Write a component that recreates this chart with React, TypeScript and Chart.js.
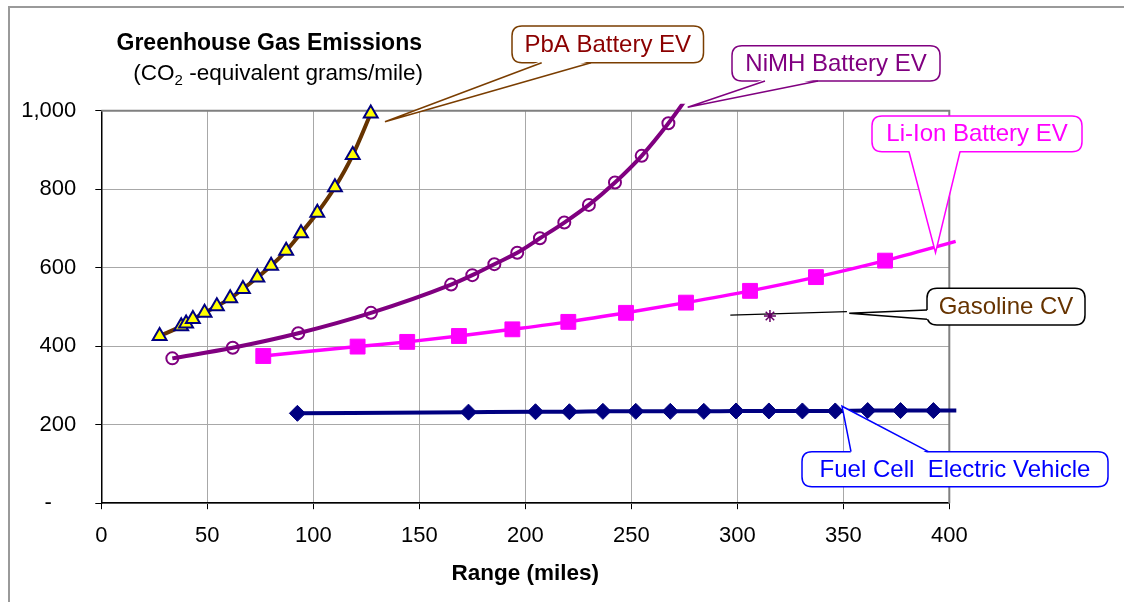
import React, { useEffect, useRef } from 'react';
import { Chart, registerables } from 'chart.js';

Chart.register(...registerables);

const FONT = '"Liberation Sans", Arial, Helvetica, sans-serif';

// ---- Data ----
const pbaRange = [27.5, 37.7, 40.0, 43.2, 48.7, 54.5, 60.8, 66.8, 73.6, 80.1, 87.2, 94.2, 101.9, 110.2, 118.6, 127.1];
const pbaGhg = [426, 451, 458, 469, 485, 502, 522, 546, 575, 605, 643, 688, 740, 805, 887, 993];

const nimhRange = [33.5, 62.0, 92.9, 127.2, 165.0, 175.0, 185.4, 196.2, 206.9, 218.4, 230.0, 242.3, 254.9, 267.5, 280.5];
const nimhGhg = [369, 396, 433, 485, 557, 581, 609, 638, 675, 715, 760, 817, 885, 968, 1065];

const liRange = [76.4, 120.9, 144.3, 168.7, 193.9, 220.3, 247.5, 275.8, 306.0, 337.1, 369.7, 403.0];
const liGhg = [375, 399, 411, 426, 443, 462, 485, 511, 541, 576, 618, 667];

const fcRange = [92.5, 173.2, 204.8, 220.8, 236.6, 252.1, 268.4, 284.2, 299.4, 314.9, 330.7, 346.2, 361.5, 377.0, 392.5, 408.0];
const fcGhg = [229, 232, 233, 233, 234, 234, 234, 234, 235, 235, 235, 235, 236, 236, 236, 236];

const gasRange = [315.4];
const gasGhg = [477];
const gasLeaderRange = [296.7, 351.7];
const gasLeaderGhg = [479, 488];

const xTicks = [0, 50, 100, 150, 200, 250, 300, 350, 400];
const yTicks = [0, 200, 400, 600, 800, 1000];
const yTickLabels = ['-    ', '200', '400', '600', '800', '1,000'];

const calloutTexts = ['PbA Battery EV', 'NiMH Battery EV', 'Li-Ion Battery EV', 'Gasoline CV', 'Fuel Cell  Electric Vehicle'];
const calloutTipRange = [133.8, 276.6, 393.5, 352.8, 349.4];
const calloutTipGhg = [972, 1009, 638, 484, 247];

// ---- Layout / style (pixels) ----
type Side = 'top' | 'bottom' | 'left';
const calloutLayout: { x: number; y: number; w: number; h: number; side: Side; b1: number; b2: number }[] = [
  { x: 512, y: 26, w: 191.5, h: 36.7, side: 'bottom', b1: 541.7, b2: 591 },
  { x: 732, y: 45.7, w: 208, h: 35.3, side: 'bottom', b1: 765, b2: 818 },
  { x: 872, y: 116, w: 210, h: 35.7, side: 'bottom', b1: 909, b2: 960 },
  { x: 927, y: 288.3, w: 158, h: 36.7, side: 'left', b1: 310, b2: 319.3 },
  { x: 802, y: 451.7, w: 306, h: 35, side: 'top', b1: 851, b2: 928.4 },
];
const calloutStyle = [
  { border: '#7a3d00', text: '#8b0000' },
  { border: '#800080', text: '#800080' },
  { border: '#ff00ff', text: '#ff00ff' },
  { border: '#000000', text: '#663300' },
  { border: '#0000ff', text: '#0000ff' },
];

const toXY = (xs: number[], ys: number[]) => xs.map((x, i) => ({ x, y: ys[i] }));
const radii = (n: number, r: number, hiddenLast: boolean) =>
  Array.from({ length: n }, (_, i) => (hiddenLast && i === n - 1 ? 0 : r));

function roundRectPath(ctx: CanvasRenderingContext2D, x: number, y: number, w: number, h: number, r: number) {
  ctx.beginPath();
  ctx.moveTo(x + r, y);
  ctx.lineTo(x + w - r, y);
  ctx.quadraticCurveTo(x + w, y, x + w, y + r);
  ctx.lineTo(x + w, y + h - r);
  ctx.quadraticCurveTo(x + w, y + h, x + w - r, y + h);
  ctx.lineTo(x + r, y + h);
  ctx.quadraticCurveTo(x, y + h, x, y + h - r);
  ctx.lineTo(x, y + r);
  ctx.quadraticCurveTo(x, y, x + r, y);
  ctx.closePath();
}

const decorPlugin = {
  id: 'decor',
  beforeDraw(chart: any) {
    const ctx: CanvasRenderingContext2D = chart.ctx;
    ctx.save();
    ctx.fillStyle = '#ffffff';
    ctx.fillRect(0, 0, chart.width, chart.height);
    // outer frame
    ctx.strokeStyle = '#9a9a9a';
    ctx.lineWidth = 2;
    ctx.beginPath();
    ctx.moveTo(9, chart.height + 2);
    ctx.lineTo(9, 7);
    ctx.lineTo(chart.width + 2, 7);
    ctx.stroke();
    // titles
    ctx.fillStyle = '#000';
    ctx.textBaseline = 'alphabetic';
    ctx.textAlign = 'right';
    ctx.font = `bold 23px ${FONT}`;
    ctx.fillText('Greenhouse Gas Emissions', 422, 50);
    ctx.textAlign = 'left';
    const p1 = '(CO';
    const sub = '2';
    const p2 = ' -equivalent grams/mile)';
    ctx.font = `22.5px ${FONT}`;
    const w1 = ctx.measureText(p1).width;
    const w3 = ctx.measureText(p2).width;
    ctx.font = `15px ${FONT}`;
    const w2 = ctx.measureText(sub).width;
    const start = 423 - (w1 + w2 + w3);
    ctx.font = `22.5px ${FONT}`;
    ctx.fillText(p1, start, 80);
    ctx.fillText(p2, start + w1 + w2, 80);
    ctx.font = `15px ${FONT}`;
    ctx.fillText(sub, start + w1, 85);
    ctx.restore();
  },
  beforeDatasetsDraw(chart: any) {
    const ctx: CanvasRenderingContext2D = chart.ctx;
    const { left, right, top, bottom } = chart.chartArea;
    ctx.save();
    ctx.strokeStyle = '#808080';
    ctx.lineWidth = 2;
    ctx.beginPath();
    ctx.moveTo(left, top);
    ctx.lineTo(right, top);
    ctx.lineTo(right, bottom);
    ctx.stroke();
    ctx.restore();
  },
  afterDraw(chart: any) {
    const ctx: CanvasRenderingContext2D = chart.ctx;
    const xs = chart.scales.x;
    const ys = chart.scales.y;
    calloutTexts.forEach((text, i) => {
      const L = calloutLayout[i];
      const S = calloutStyle[i];
      const tip = { x: xs.getPixelForValue(calloutTipRange[i]), y: ys.getPixelForValue(calloutTipGhg[i]) };
      let b1: { x: number; y: number }, b2: { x: number; y: number }, inv: { x: number; y: number };
      if (L.side === 'bottom') {
        b1 = { x: L.b1, y: L.y + L.h }; b2 = { x: L.b2, y: L.y + L.h }; inv = { x: 0, y: -2 };
      } else if (L.side === 'top') {
        b1 = { x: L.b1, y: L.y }; b2 = { x: L.b2, y: L.y }; inv = { x: 0, y: 2 };
      } else {
        b1 = { x: L.x, y: L.b1 }; b2 = { x: L.x, y: L.b2 }; inv = { x: 2, y: 0 };
      }
      ctx.save();
      ctx.lineWidth = 1.5;
      ctx.strokeStyle = S.border;
      ctx.fillStyle = '#ffffff';
      roundRectPath(ctx, L.x, L.y, L.w, L.h, 10);
      ctx.fill();
      ctx.stroke();
      ctx.beginPath();
      ctx.moveTo(b1.x + inv.x, b1.y + inv.y);
      ctx.lineTo(tip.x, tip.y);
      ctx.lineTo(b2.x + inv.x, b2.y + inv.y);
      ctx.closePath();
      ctx.fill();
      ctx.beginPath();
      ctx.moveTo(b1.x, b1.y);
      ctx.lineTo(tip.x, tip.y);
      ctx.lineTo(b2.x, b2.y);
      ctx.stroke();
      ctx.fillStyle = S.text;
      ctx.font = `24px ${FONT}`;
      ctx.textAlign = 'center';
      ctx.textBaseline = 'middle';
      ctx.fillText(text, L.x + L.w / 2, L.y + L.h / 2 + 1);
      ctx.restore();
    });
  },
};

export default function App() {
  const ref = useRef<HTMLCanvasElement>(null);
  useEffect(() => {
    if (!ref.current) return;
    const tickFont = { family: FONT, size: 22 };
    const chart = new Chart(ref.current, {
      type: 'scatter',
      data: {
        datasets: [
          {
            label: 'Gasoline CV',
            data: toXY(gasRange, gasGhg),
            pointStyle: 'star',
            pointRadius: 6,
            pointBorderColor: '#660066',
            pointBackgroundColor: '#660066',
            pointBorderWidth: 1.5,
            showLine: false,
            order: 0,
          },
          {
            label: 'Gasoline leader',
            data: toXY(gasLeaderRange, gasLeaderGhg),
            showLine: true,
            borderColor: '#000000',
            borderWidth: 1.2,
            pointRadius: 0,
            order: 1,
          },
          {
            label: 'PbA Battery EV',
            data: toXY(pbaRange, pbaGhg),
            showLine: true,
            borderColor: '#663300',
            borderWidth: 4,
            cubicInterpolationMode: 'monotone',
            pointStyle: 'triangle',
            pointRadius: 8,
            pointBackgroundColor: '#ffff00',
            pointBorderColor: '#000080',
            pointBorderWidth: 2,
            clip: 10,
            order: 2,
          },
          {
            label: 'NiMH Battery EV',
            data: toXY(nimhRange, nimhGhg),
            showLine: true,
            borderColor: '#800080',
            borderWidth: 4,
            cubicInterpolationMode: 'monotone',
            pointStyle: 'circle',
            pointRadius: radii(nimhRange.length, 6, true),
            pointBackgroundColor: 'rgba(0,0,0,0)',
            pointBorderColor: '#800080',
            pointBorderWidth: 2,
            clip: { left: 7, top: 7, right: 7, bottom: 7 },
            order: 3,
          },
          {
            label: 'Li-Ion Battery EV',
            data: toXY(liRange, liGhg),
            showLine: true,
            borderColor: '#ff00ff',
            borderWidth: 3.5,
            cubicInterpolationMode: 'monotone',
            pointStyle: 'rect',
            pointRadius: radii(liRange.length, 10.5, true),
            pointBackgroundColor: '#ff00ff',
            pointBorderColor: '#ff00ff',
            pointBorderWidth: 1,
            clip: { left: 7, top: 7, right: 7, bottom: 7 },
            order: 4,
          },
          {
            label: 'Fuel Cell Electric Vehicle',
            data: toXY(fcRange, fcGhg),
            showLine: true,
            borderColor: '#000080',
            borderWidth: 4,
            cubicInterpolationMode: 'monotone',
            pointStyle: 'rectRot',
            pointRadius: radii(fcRange.length, 8, true),
            pointBackgroundColor: '#000080',
            pointBorderColor: '#000080',
            pointBorderWidth: 1,
            clip: { left: 7, top: 7, right: 7, bottom: 7 },
            order: 5,
          },
        ],
      } as any,
      options: {
        responsive: false,
        animation: false,
        events: [],
        layout: { padding: { left: 0, top: 110.7, right: 174.7, bottom: 0 } },
        plugins: { legend: { display: false }, tooltip: { enabled: false } },
        scales: {
          x: {
            type: 'linear',
            min: 0,
            max: 400,
            afterBuildTicks: (s: any) => {
              s.ticks = xTicks.map((v) => ({ value: v }));
            },
            ticks: { font: tickFont, color: '#000', padding: 14, maxRotation: 0, autoSkip: false },
            grid: { color: '#a8a8a8', lineWidth: 1, tickColor: '#000', tickLength: 6, drawTicks: true },
            border: { color: '#000', width: 1.5 },
            title: {
              display: true,
              text: 'Range (miles)',
              font: { family: FONT, size: 22.5, weight: 'bold' },
              color: '#000',
              padding: { top: 0, bottom: 15 },
            },
            afterFit: (s: any) => {
              s.height = 98.8;
            },
          },
          y: {
            type: 'linear',
            min: 0,
            max: 1000,
            afterBuildTicks: (s: any) => {
              s.ticks = yTicks.map((v) => ({ value: v }));
            },
            ticks: {
              font: tickFont,
              color: '#000',
              padding: 19,
              autoSkip: false,
              callback: (_v: any, i: number) => yTickLabels[i],
            },
            grid: { color: '#a8a8a8', lineWidth: 1, tickColor: '#000', tickLength: 6, drawTicks: true },
            border: { color: '#000', width: 1.5 },
            afterFit: (s: any) => {
              s.width = 101.3;
            },
          },
        },
      } as any,
      plugins: [decorPlugin],
    });
    return () => chart.destroy();
  }, []);
  return (
    <div style={{ position: 'absolute', left: 0, top: 0, width: 1124, height: 602, background: '#fff', overflow: 'hidden' }}>
      <canvas ref={ref} width={1124} height={602} style={{ display: 'block', width: 1124, height: 602 }} />
    </div>
  );
}
